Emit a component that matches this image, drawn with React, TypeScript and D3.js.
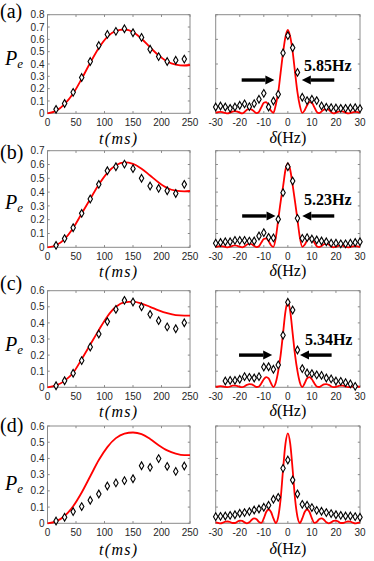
import React from 'react';
import * as d3 from 'd3';

// pulse-length scans (t in ms)
const pulseTime = [15, 30, 45, 60, 75, 90, 105, 120, 135, 150, 165, 180, 195, 210, 225, 240];
const pulseA = [0.032, 0.08, 0.17, 0.29, 0.42, 0.55, 0.64, 0.665, 0.686, 0.654, 0.616, 0.52, 0.46, 0.42, 0.43, 0.44];
const pulseB = [0.014, 0.063, 0.142, 0.246, 0.35, 0.456, 0.555, 0.584, 0.603, 0.57, 0.5, 0.444, 0.427, 0.41, 0.39, 0.456];
const pulseC = [0.01, 0.041, 0.087, 0.166, 0.25, 0.331, 0.408, 0.484, 0.54, 0.53, 0.5, 0.453, 0.414, 0.375, 0.364, 0.401];
const pulseD = [0.014, 0.037, 0.072, 0.103, 0.142, 0.181, 0.23, 0.249, 0.263, 0.275, 0.355, 0.345, 0.399, 0.351, 0.32, 0.353];

const fitTime = [0, 15, 30, 45, 60, 75, 90, 105, 120, 135, 150, 165, 180, 195, 210, 225, 240, 250];
const fitPulseA = [0, 0.02, 0.075, 0.16, 0.28, 0.41, 0.53, 0.62, 0.668, 0.68, 0.66, 0.605, 0.535, 0.47, 0.42, 0.395, 0.388, 0.392];
const fitPulseB = [0, 0.015, 0.06, 0.14, 0.245, 0.35, 0.455, 0.54, 0.595, 0.615, 0.605, 0.57, 0.52, 0.47, 0.43, 0.41, 0.405, 0.408];
const fitPulseC = [0, 0.012, 0.04, 0.09, 0.175, 0.265, 0.355, 0.44, 0.5, 0.528, 0.532, 0.52, 0.5, 0.478, 0.46, 0.448, 0.445, 0.445];
const fitPulseD = [0, 0.012, 0.045, 0.105, 0.19, 0.29, 0.39, 0.47, 0.525, 0.553, 0.56, 0.55, 0.52, 0.482, 0.45, 0.43, 0.42, 0.42];

// detuning scans (delta in Hz)
const specDetune = [-30, -28, -26, -24, -22, -20, -18, -16, -14, -12, -10, -8, -6, -4, -2, 0, 2, 4, 6, 8, 10, 12, 14, 16, 18, 20, 22, 24, 26, 28, 30];
const specDetuneC = [-26, -24, -22, -20, -18, -16, -14, -12, -10, -8, -6, -4, -2, 0, 2, 4, 6, 8, 10, 12, 14, 16, 18, 20, 22, 24, 26, 28];
const specA = [0.051, 0.059, 0.051, 0.04, 0.051, 0.065, 0.076, 0.054, 0.078, 0.114, 0.162, 0.051, 0.1, 0.154, 0.49, 0.63, 0.532, 0.332, 0.13, 0.103, 0.114, 0.103, 0.06, 0.049, 0.046, 0.043, 0.04, 0.04, 0.043, 0.046, 0.038];
const specB = [0.03, 0.035, 0.04, 0.04, 0.05, 0.05, 0.05, 0.045, 0.046, 0.082, 0.106, 0.072, 0.068, 0.203, 0.396, 0.584, 0.48, 0.21, 0.065, 0.07, 0.06, 0.053, 0.046, 0.04, 0.03, 0.03, 0.025, 0.025, 0.03, 0.035, 0.04];
const specC = [0.039, 0.043, 0.043, 0.05, 0.066, 0.062, 0.058, 0.066, 0.126, 0.128, 0.112, 0.139, 0.323, 0.528, 0.48, 0.232, 0.116, 0.089, 0.085, 0.077, 0.074, 0.058, 0.052, 0.039, 0.037, 0.029, 0.021, 0.006];
const specD = [0.041, 0.043, 0.045, 0.049, 0.053, 0.062, 0.066, 0.072, 0.082, 0.088, 0.099, 0.111, 0.148, 0.16, 0.339, 0.39, 0.267, 0.181, 0.117, 0.111, 0.097, 0.08, 0.074, 0.066, 0.06, 0.053, 0.049, 0.045, 0.045, 0.041, 0.037];

const fitDetune = [-30, -29, -28, -27, -26, -25, -24, -23, -22, -21, -20, -19, -18, -17, -16, -15, -14, -13, -12, -11, -10, -9, -8, -7, -6, -5, -4, -3, -2, -1, 0,
  1, 2, 3, 4, 5, 6, 7, 8, 9, 10, 11, 12, 13, 14, 15, 16, 17, 18, 19, 20, 21, 22, 23, 24, 25, 26, 27, 28, 29, 30];
const fitSpecA = [0.005, 0.01, 0.012, 0.008, 0.003, 0, 0.006, 0.014, 0.018, 0.014, 0.005, 0, 0.01, 0.028, 0.036, 0.03, 0.014, 0.002, 0.012, 0.05, 0.085, 0.09, 0.06, 0.02, 0.003, 0.07, 0.17, 0.33, 0.49, 0.62, 0.676,
  0.62, 0.5, 0.33, 0.17, 0.06, 0.003, 0.025, 0.065, 0.09, 0.085, 0.05, 0.012, 0.002, 0.014, 0.03, 0.036, 0.028, 0.01, 0, 0.005, 0.014, 0.018, 0.014, 0.006, 0, 0.003, 0.008, 0.012, 0.01, 0.005];
const fitSpecB = [0.002, 0.006, 0.009, 0.007, 0.003, 0, 0.004, 0.01, 0.014, 0.01, 0.004, 0, 0.007, 0.02, 0.027, 0.022, 0.01, 0.001, 0.008, 0.035, 0.06, 0.065, 0.045, 0.015, 0.003, 0.07, 0.2, 0.33, 0.44, 0.56, 0.608,
  0.56, 0.45, 0.33, 0.2, 0.07, 0.003, 0.018, 0.05, 0.065, 0.058, 0.035, 0.008, 0.001, 0.01, 0.022, 0.027, 0.02, 0.007, 0, 0.004, 0.01, 0.014, 0.01, 0.004, 0, 0.003, 0.007, 0.009, 0.006, 0.002];
const fitSpecC = [0.002, 0.005, 0.007, 0.005, 0.002, 0.001, 0.005, 0.01, 0.011, 0.008, 0.003, 0.001, 0.006, 0.015, 0.02, 0.018, 0.01, 0.002, 0.005, 0.025, 0.05, 0.063, 0.055, 0.025, 0.002, 0.03, 0.1, 0.2, 0.335, 0.47, 0.53,
  0.47, 0.335, 0.2, 0.1, 0.03, 0.002, 0.025, 0.055, 0.063, 0.05, 0.025, 0.005, 0.002, 0.01, 0.018, 0.02, 0.015, 0.006, 0.001, 0.003, 0.008, 0.011, 0.01, 0.005, 0.001, 0.002, 0.005, 0.007, 0.005, 0.002];
const fitSpecD = [0.006, 0.003, 0, 0.004, 0.01, 0.011, 0.008, 0.002, 0.002, 0.01, 0.017, 0.015, 0.006, 0, 0.006, 0.022, 0.03, 0.025, 0.008, 0.003, 0.03, 0.07, 0.085, 0.07, 0.03, 0.002, 0.04, 0.15, 0.33, 0.49, 0.555,
  0.49, 0.33, 0.15, 0.04, 0.002, 0.03, 0.07, 0.085, 0.07, 0.03, 0.003, 0.008, 0.025, 0.03, 0.022, 0.006, 0, 0.006, 0.015, 0.017, 0.01, 0.002, 0.002, 0.008, 0.011, 0.01, 0.004, 0, 0.003, 0.006];

const panelLabels = ['(a)', '(b)', '(c)', '(d)'];
const yMaxes = [0.8, 0.7, 0.6, 0.6];
const rightTickSteps = [0.2, 0.1, 0.1, 0.1];
const widthLabels = ['5.85Hz', '5.23Hz', '5.34Hz'];
const timeTicks = [0, 50, 100, 150, 200, 250];
const detuneTicks = [-30, -20, -10, 0, 10, 20, 30];

const RED = '#ff0000';
const FRAME = '#8a8a8a';
const TXT = '#262626';
const SANS = '"Liberation Sans", Arial, sans-serif';
const SERIF = '"Liberation Serif", "Times New Roman", serif';

// vertical placement of each row (pixels)
const rows = [
  { top: 14.7, bottom: 113.3, labelY: 18, peY: 65, titleY: 143.5 },
  { top: 150.7, bottom: 247.3, labelY: 159, peY: 209, titleY: 277 },
  { top: 290.7, bottom: 387.3, labelY: 290, peY: 351, titleY: 417 },
  { top: 426, bottom: 523.3, labelY: 432, peY: 490, titleY: 555 },
];
// arrows/annotation in data coordinates of the spectrum plot
const notes = [
  { y: 0.27, l: [-19.2, -5.6], r: [19.3, 5.8], tx: 6.7, ty: 0.346 },
  { y: 0.227, l: [-19, -5.1], r: [19.3, 6.0], tx: 6.7, ty: 0.303 },
  { y: 0.2, l: [-20.3, -6.5], r: [18.2, 5.05], tx: 7.1, ty: 0.26 },
];

const pulseData = [pulseA, pulseB, pulseC, pulseD];
const fitPulseData = [fitPulseA, fitPulseB, fitPulseC, fitPulseD];
const specData = [specA, specB, specC, specD];
const specX = [specDetune, specDetune, specDetuneC, specDetune];
const fitSpecData = [fitSpecA, fitSpecB, fitSpecC, fitSpecD];

const diamond = d3.symbol().type(d3.symbolDiamond).size(17)();

function Arrow({ x1, x2, y }: { x1: number; x2: number; y: number }) {
  const dir = Math.sign(x2 - x1);
  const head = 9;
  return (
    <g>
      <line x1={x1} x2={x2 - dir * head} y1={y} y2={y} stroke="#000" strokeWidth={3.4} />
      <path d={`M${x2},${y} L${x2 - dir * head},${y - 4.5} L${x2 - dir * head},${y + 4.5} Z`} fill="#000" />
    </g>
  );
}

function Frame({ x0, x1, y0, y1, xs, xt, ys, yt }: any) {
  const tl = 2.2;
  return (
    <g>
      {xt.map((t: number) => (
        <g key={'x' + t}>
          <line x1={xs(t)} x2={xs(t)} y1={y1} y2={y1 - tl} stroke={FRAME} />
          <line x1={xs(t)} x2={xs(t)} y1={y0} y2={y0 + tl} stroke={FRAME} />
        </g>
      ))}
      {yt.map((t: number) => (
        <g key={'y' + t}>
          <line x1={x0} x2={x0 + tl} y1={ys(t)} y2={ys(t)} stroke={FRAME} />
          <line x1={x1} x2={x1 - tl} y1={ys(t)} y2={ys(t)} stroke={FRAME} />
        </g>
      ))}
      <rect x={x0} y={y0} width={x1 - x0} height={y1 - y0} fill="none" stroke={FRAME} strokeWidth={1} />
    </g>
  );
}

function Row({ i }: { i: number }) {
  const r = rows[i];
  const yMax = yMaxes[i];
  const xL = d3.scaleLinear().domain([0, 250]).range([47.5, 190]);
  const xR = d3.scaleLinear().domain([-30, 30]).range([215.7, 360]);
  const y = d3.scaleLinear().domain([0, yMax]).range([r.bottom, r.top]);
  const leftTicks = d3.range(0, yMax + 0.001, 0.1).map((v) => +v.toFixed(1));
  const rightTicks = d3.range(0, yMax + 0.001, rightTickSteps[i]).map((v) => +v.toFixed(1));

  const lineL = d3.line<number>().x((_, k) => xL(fitTime[k])).y((d) => y(d)).curve(d3.curveMonotoneX);
  const lineR = d3.line<number>().x((_, k) => xR(fitDetune[k])).y((d) => y(d)).curve(d3.curveMonotoneX);
  const note = notes[i];

  return (
    <g>
      {/* left: excitation vs pulse length */}
      <Frame x0={47.5} x1={190} y0={r.top} y1={r.bottom} xs={xL} xt={timeTicks} ys={y} yt={leftTicks} />
      <path d={lineL(fitPulseData[i]) || ''} fill="none" stroke={RED} strokeWidth={1.8} />
      {pulseData[i].map((v, k) => (
        <path key={k} d={diamond || ''} transform={`translate(${xL(pulseTime[k])},${y(v)})`} fill="#fff" stroke="#000" strokeWidth={1.1} />
      ))}
      {leftTicks.map((t) => (
        <text key={t} x={44.5} y={y(t) + 3.6} textAnchor="end" fontFamily={SANS} fontSize={10} fill={TXT}>
          {t === 0 ? '0' : t.toFixed(1)}
        </text>
      ))}
      {timeTicks.map((t) => (
        <text key={t} x={xL(t)} y={r.bottom + 12.3} textAnchor="middle" fontFamily={SANS} fontSize={10} fill={TXT}>
          {t}
        </text>
      ))}
      <text x={118.75} y={r.titleY} textAnchor="middle" fontFamily={SERIF} fontStyle="italic" fontSize={16} letterSpacing={1.3} fill="#000">
        t(ms)
      </text>
      <text x={5} y={r.peY} fontFamily={SERIF} fontStyle="italic" fontSize={20} fill="#000">
        P<tspan fontSize={13} dy={3}>e</tspan>
      </text>
      <text x={0} y={r.labelY} fontFamily={SERIF} fontSize={20} fill="#000">
        {panelLabels[i]}
      </text>

      {/* right: spectrum vs detuning */}
      <Frame x0={215.7} x1={360} y0={r.top} y1={r.bottom} xs={xR} xt={detuneTicks} ys={y} yt={rightTicks} />
      <path d={lineR(fitSpecData[i]) || ''} fill="none" stroke={RED} strokeWidth={1.8} />
      {specData[i].map((v, k) => (
        <path key={k} d={diamond || ''} transform={`translate(${xR(specX[i][k])},${y(v)})`} fill="#fff" stroke="#000" strokeWidth={1.1} />
      ))}
      {detuneTicks.map((t) => (
        <text key={t} x={xR(t)} y={r.bottom + 12.3} textAnchor="middle" fontFamily={SANS} fontSize={10} fill={TXT}>
          {t}
        </text>
      ))}
      <text x={287.85} y={r.titleY - 1} textAnchor="middle" fontFamily={SERIF} fontSize={16} fill="#000">
        <tspan fontStyle="italic">δ</tspan>(Hz)
      </text>
      {note && (
        <g>
          <Arrow x1={xR(note.l[0])} x2={xR(note.l[1])} y={y(note.y)} />
          <Arrow x1={xR(note.r[0])} x2={xR(note.r[1])} y={y(note.y)} />
          <text x={xR(note.tx)} y={y(note.ty)} fontFamily={SERIF} fontWeight="bold" fontSize={16} fill="#000">
            {widthLabels[i]}
          </text>
        </g>
      )}
    </g>
  );
}

export default function App() {
  return (
    <svg width={374} height={561} style={{ position: 'absolute', left: 0, top: 0, background: '#fff' }}>
      <rect width={374} height={561} fill="#fff" />
      {[0, 1, 2, 3].map((i) => (
        <Row key={i} i={i} />
      ))}
    </svg>
  );
}
